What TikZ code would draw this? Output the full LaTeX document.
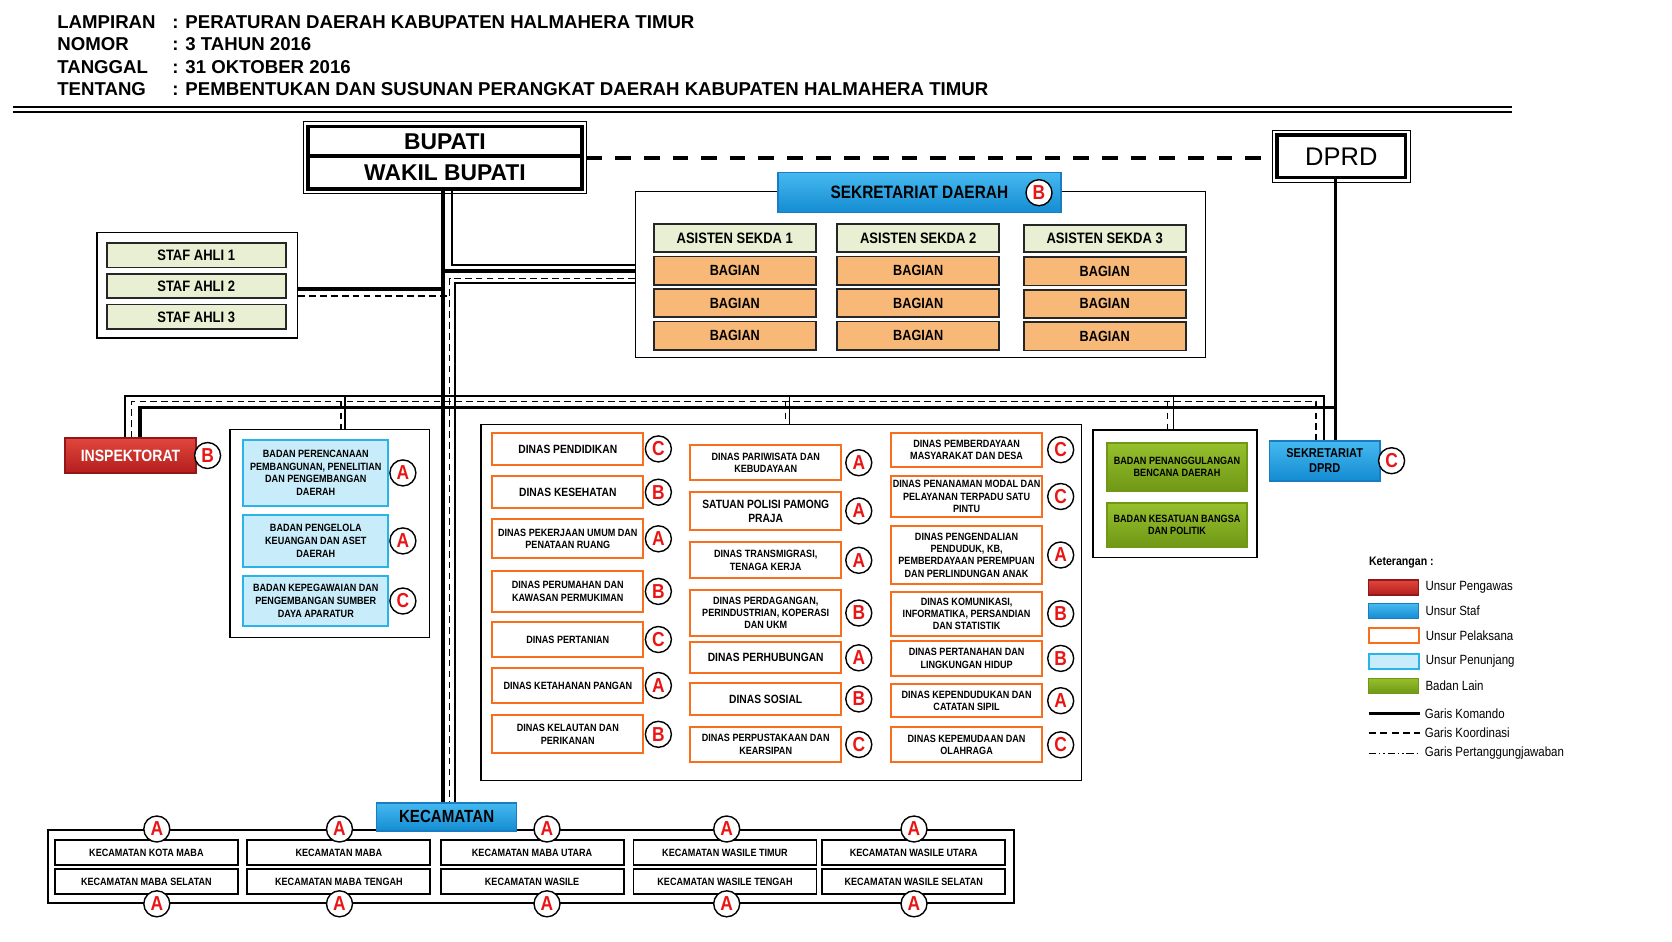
\documentclass[tikz,border=0pt]{standalone}
\usepackage{fontspec}
\setmainfont{Liberation Sans}
\newfontfamily\sempit{Liberation Sans}[FakeStretch=0.86]
\usepackage{tikz}
\usetikzlibrary{positioning}
\usepackage{xcolor}

\newlength{\pxl}
\setlength{\pxl}{0.02cm}

\definecolor{hijaumuda}{RGB}{233,239,210}
\definecolor{oranye}{RGB}{248,185,120}
\definecolor{garisoranye}{RGB}{247,110,28}
\definecolor{birua}{RGB}{70,185,240}
\definecolor{birub}{RGB}{20,140,210}
\definecolor{birugaris}{RGB}{25,125,195}
\definecolor{birumuda}{RGB}{200,236,250}
\definecolor{birumudagaris}{RGB}{40,180,235}
\definecolor{meraha}{RGB}{225,70,60}
\definecolor{merahb}{RGB}{180,30,30}
\definecolor{hijaua}{RGB}{150,192,45}
\definecolor{hijaub}{RGB}{112,152,22}
\definecolor{hurufmerah}{RGB}{235,20,20}

\begin{document}
\begin{tikzpicture}[x=0.02cm,y=-0.02cm,
  komando/.style={line width=2pt},
  tipis/.style={line width=0.6pt},
  koord/.style={line width=0.7pt,dash pattern=on 3.8pt off 2.4pt},
  koordbesar/.style={line width=1.9pt,dash pattern=on 8.9pt off 7.4pt},
  tanggung/.style={line width=0.8pt,dash pattern=on 4.3pt off 1.6pt on 0.8pt off 1.6pt on 0.8pt off 1.6pt},
  teks/.style={inner sep=0pt},
  judul/.style={teks,anchor=west,font=\bfseries\fontsize{10.6}{12}\selectfont},
  pimpinan/.style={draw,line width=1.8pt,inner sep=0pt},
  wadah/.style={draw,line width=0.8pt,fill=white,inner sep=0pt},
  kotak/.style={draw,inner sep=0pt,align=center,line width=1pt},
  staf/.style={kotak,fill=hijaumuda,draw=black!85,font=\sempit\bfseries\fontsize{8.6}{10}\selectfont},
  bagian/.style={kotak,fill=oranye,draw=black!85,minimum width=162\pxl,minimum height=28.3\pxl,font=\sempit\bfseries\fontsize{8.4}{10}\selectfont},
  dinas/.style={kotak,fill=white,draw=garisoranye,minimum width=151\pxl,font=\sempit\bfseries\fontsize{6}{7}\selectfont},
  dinasbesar/.style={dinas,font=\sempit\bfseries\fontsize{6.8}{8}\selectfont},
  penunjang/.style={kotak,fill=birumuda,draw=birumudagaris,minimum width=145\pxl,font=\sempit\bfseries\fontsize{6}{7.2}\selectfont},
  unsurstaf/.style={kotak,top color=birua,bottom color=birub,draw=birugaris},
  pengawas/.style={kotak,top color=meraha,bottom color=merahb,draw=merahb!80!black,text=white},
  badanlain/.style={kotak,top color=hijaua,bottom color=hijaub,draw=hijaub,font=\sempit\bfseries\fontsize{6}{7}\selectfont},
  kecamatan/.style={kotak,fill=white,draw=black,line width=1.1pt,minimum width=183\pxl,minimum height=25\pxl,font=\sempit\bfseries\fontsize{6}{7}\selectfont},
  kelas/.style={circle,draw,line width=0.8pt,fill=white,inner sep=0pt,minimum size=26\pxl,text=hurufmerah,font=\sempit\bfseries\fontsize{11.5}{12}\selectfont},
  ketfont/.style={teks,font=\sempit\fontsize{7.6}{9}\selectfont}
]
\fill[white] (0,0) rectangle (1672,941);
\useasboundingbox (0,0) rectangle (1672,941);

% kepala lampiran
\node[judul] (lampiran) at (57,21.7) {LAMPIRAN};
\node[judul] (nomor) at (57,44) {NOMOR};
\node[judul] (tanggal) at (57,66.7) {TANGGAL};
\node[judul] (tentang) at (57,89) {TENTANG};
\node[judul] (isi1) at (172,21.7) {: PERATURAN DAERAH KABUPATEN HALMAHERA TIMUR};
\node[judul] (isi2) at (172,44) {: 3 TAHUN 2016};
\node[judul] (isi3) at (172,66.7) {: 31 OKTOBER 2016};
\node[judul] (isi4) at (172,89) {: PEMBENTUKAN DAN SUSUNAN PERANGKAT DAERAH KABUPATEN HALMAHERA TIMUR};
\draw[line width=1pt] (12.5,107.3) -- (1512,107.3);
\draw[line width=1pt] (12.5,111.7) -- (1512,111.7);

% pimpinan dan dprd
\node[pimpinan,minimum width=274\pxl,minimum height=30\pxl,font=\bfseries\fontsize{13}{15}\selectfont] (bupati) at (445,141.5) {BUPATI};
\node[pimpinan,minimum width=274\pxl,minimum height=33.3\pxl,font=\bfseries\fontsize{13}{15}\selectfont] (wakil) at (445,172.3) {WAKIL BUPATI};
\draw[tipis] ([xshift=-3\pxl,yshift=3\pxl]bupati.north west) rectangle ([xshift=3\pxl,yshift=-3\pxl]wakil.south east);
\node[pimpinan,minimum width=128.5\pxl,minimum height=42.7\pxl,font=\fontsize{14.5}{16}\selectfont] (dprd) at (1341.3,156.3) {DPRD};
\draw[tipis] ([xshift=-3\pxl,yshift=3\pxl]dprd.north west) rectangle ([xshift=3\pxl,yshift=-3\pxl]dprd.south east);

% sekretariat daerah
\node[wadah,minimum width=570\pxl,minimum height=166\pxl] (sekdawadah) at (920.6,274.7) {};
\node[unsurstaf,minimum width=283\pxl,minimum height=40\pxl,font=\sempit\bfseries\fontsize{10.2}{12}\selectfont] (sekda) at (919.4,192.5) {SEKRETARIAT DAERAH};
\node[kelas] (k-sekda) at (1039,192.7) {B};
\node[staf,minimum width=162\pxl,minimum height=27.5\pxl] (as1) at (734.8,237.9) {ASISTEN SEKDA 1};
\node[staf,minimum width=162\pxl,minimum height=27.5\pxl] (as2) at (918.2,237.9) {ASISTEN SEKDA 2};
\node[staf,minimum width=162\pxl,minimum height=27.5\pxl] (as3) at (1104.7,238.5) {ASISTEN SEKDA 3};
\node[bagian,below=3.2\pxl of as1] (bg11) {BAGIAN};
\node[bagian,below=2.4\pxl of bg11] (bg12) {BAGIAN};
\node[bagian,below=2.4\pxl of bg12] (bg13) {BAGIAN};
\node[bagian,below=3.2\pxl of as2] (bg21) {BAGIAN};
\node[bagian,below=2.4\pxl of bg21] (bg22) {BAGIAN};
\node[bagian,below=2.4\pxl of bg22] (bg23) {BAGIAN};
\node[bagian,below=3.2\pxl of as3] (bg31) {BAGIAN};
\node[bagian,below=2.4\pxl of bg31] (bg32) {BAGIAN};
\node[bagian,below=2.4\pxl of bg32] (bg33) {BAGIAN};

% staf ahli
\node[wadah,minimum width=200.5\pxl,minimum height=105.5\pxl] (stafwadah) at (197.3,285.3) {};
\node[staf,minimum width=179\pxl,minimum height=24.5\pxl] (sa1) at (196.2,255.3) {STAF AHLI 1};
\node[staf,minimum width=179\pxl,minimum height=24.5\pxl,below=4.5\pxl of sa1] (sa2) {STAF AHLI 2};
\node[staf,minimum width=179\pxl,minimum height=24.5\pxl,below=4.5\pxl of sa2] (sa3) {STAF AHLI 3};

% inspektorat
\node[pengawas,minimum width=131\pxl,minimum height=34.4\pxl,font=\sempit\bfseries\fontsize{9.3}{11}\selectfont] (insp) at (130.5,455.5) {INSPEKTORAT};
\node[kelas,right=-3\pxl of insp] (k-insp) {B};

% badan penunjang
\node[wadah,minimum width=199.3\pxl,minimum height=208.4\pxl] (penwadah) at (329.7,533.5) {};
\node[penunjang,minimum height=65.7\pxl] (pn1) at (315.8,472.9) {BADAN PERENCANAAN\\PEMBANGUNAN, PENELITIAN\\DAN PENGEMBANGAN\\DAERAH};
\node[kelas,right=0pt of pn1] (k-pn1) {A};
\node[penunjang,minimum height=51.7\pxl] (pn2) at (315.8,540.9) {BADAN PENGELOLA\\KEUANGAN DAN ASET\\DAERAH};
\node[kelas,right=0pt of pn2] (k-pn2) {A};
\node[penunjang,minimum height=50\pxl] (pn3) at (315.8,601) {BADAN KEPEGAWAIAN DAN\\PENGEMBANGAN SUMBER\\DAYA APARATUR};
\node[kelas,right=0pt of pn3] (k-pn3) {C};

% dinas
\node[wadah,minimum width=600.2\pxl,minimum height=356.1\pxl] (dinwadah) at (781.1,602.5) {};
\node[dinasbesar,minimum height=32.3\pxl] (d11) at (567.8,448.9) {DINAS PENDIDIKAN};
\node[kelas,right=0.5\pxl of d11] (k11) {C};
\node[dinasbesar,minimum height=32.3\pxl] (d12) at (567.8,492.2) {DINAS KESEHATAN};
\node[kelas,right=0.5\pxl of d12] (k12) {B};
\node[dinas,minimum height=39\pxl] (d13) at (567.8,538.8) {DINAS PEKERJAAN UMUM DAN\\PENATAAN RUANG};
\node[kelas,right=0.5\pxl of d13] (k13) {A};
\node[dinas,minimum height=40.7\pxl] (d14) at (567.8,591.4) {DINAS PERUMAHAN DAN\\KAWASAN PERMUKIMAN};
\node[kelas,right=0.5\pxl of d14] (k14) {B};
\node[dinas,minimum height=34.4\pxl] (d15) at (567.8,639.5) {DINAS PERTANIAN};
\node[kelas,right=0.5\pxl of d15] (k15) {C};
\node[dinas,minimum height=34.4\pxl] (d16) at (567.8,685.5) {DINAS KETAHANAN PANGAN};
\node[kelas,right=0.5\pxl of d16] (k16) {A};
\node[dinas,minimum height=38\pxl] (d17) at (567.8,734.3) {DINAS KELAUTAN DAN\\PERIKANAN};
\node[kelas,right=0.5\pxl of d17] (k17) {B};
\node[dinas,minimum height=34.7\pxl] (d21) at (765.7,462.7) {DINAS PARIWISATA DAN\\KEBUDAYAAN};
\node[kelas,right=3\pxl of d21] (k21) {A};
\node[dinasbesar,minimum height=38.3\pxl] (d22) at (765.7,510.9) {SATUAN POLISI PAMONG\\PRAJA};
\node[kelas,right=3\pxl of d22] (k22) {A};
\node[dinas,minimum height=36\pxl] (d23) at (765.7,560.3) {DINAS TRANSMIGRASI,\\TENAGA KERJA};
\node[kelas,right=3\pxl of d23] (k23) {A};
\node[dinas,minimum height=45.4\pxl] (d24) at (765.7,613) {DINAS PERDAGANGAN,\\PERINDUSTRIAN, KOPERASI\\DAN UKM};
\node[kelas,right=3\pxl of d24] (k24) {B};
\node[dinasbesar,minimum height=31\pxl] (d25) at (765.7,657.8) {DINAS PERHUBUNGAN};
\node[kelas,right=3\pxl of d25] (k25) {A};
\node[dinasbesar,minimum height=32.3\pxl] (d26) at (765.7,698.9) {DINAS SOSIAL};
\node[kelas,right=3\pxl of d26] (k26) {B};
\node[dinas,minimum height=35.6\pxl] (d27) at (765.7,744.5) {DINAS PERPUSTAKAAN DAN\\KEARSIPAN};
\node[kelas,right=3\pxl of d27] (k27) {C};
\node[dinas,minimum height=34\pxl] (d31) at (966.6,449.7) {DINAS PEMBERDAYAAN\\MASYARAKAT DAN DESA};
\node[kelas,right=4\pxl of d31] (k31) {C};
\node[dinas,minimum height=41.6\pxl] (d32) at (966.6,496.5) {DINAS PENANAMAN MODAL DAN\\PELAYANAN TERPADU SATU\\PINTU};
\node[kelas,right=4\pxl of d32] (k32) {C};
\node[dinas,minimum height=58\pxl] (d33) at (966.6,555) {DINAS PENGENDALIAN\\PENDUDUK, KB,\\PEMBERDAYAAN PEREMPUAN\\DAN PERLINDUNGAN ANAK};
\node[kelas,right=4\pxl of d33] (k33) {A};
\node[dinas,minimum height=44\pxl] (d34) at (966.6,613.7) {DINAS KOMUNIKASI,\\INFORMATIKA, PERSANDIAN\\DAN STATISTIK};
\node[kelas,right=4\pxl of d34] (k34) {B};
\node[dinas,minimum height=34.7\pxl] (d35) at (966.6,658.4) {DINAS PERTANAHAN DAN\\LINGKUNGAN HIDUP};
\node[kelas,right=4\pxl of d35] (k35) {B};
\node[dinas,minimum height=33.3\pxl] (d36) at (966.6,700.7) {DINAS KEPENDUDUKAN DAN\\CATATAN SIPIL};
\node[kelas,right=4\pxl of d36] (k36) {A};
\node[dinas,minimum height=35\pxl] (d37) at (966.6,744.8) {DINAS KEPEMUDAAN DAN\\OLAHRAGA};
\node[kelas,right=4\pxl of d37] (k37) {C};

% badan lain
\node[wadah,minimum width=164\pxl,minimum height=127.7\pxl] (lainwadah) at (1175,493.9) {};
\node[badanlain,minimum width=140\pxl,minimum height=48\pxl] (bl1) at (1177,466.7) {BADAN PENANGGULANGAN\\BENCANA DAERAH};
\node[badanlain,minimum width=140\pxl,minimum height=43.7\pxl] (bl2) at (1177,524.9) {BADAN KESATUAN BANGSA\\DAN POLITIK};

% sekretariat dprd
\node[unsurstaf,minimum width=110.6\pxl,minimum height=40\pxl,font=\sempit\bfseries\fontsize{7.3}{8.2}\selectfont] (setdprd) at (1324.7,460.7) {SEKRETARIAT\\DPRD};
\node[kelas,right=-3\pxl of setdprd] (k-setdprd) {C};

% kecamatan
\node[wadah,line width=1.2pt,minimum width=966.4\pxl,minimum height=72.7\pxl] (kecwadah) at (530.8,866.4) {};
\node[unsurstaf,minimum width=140\pxl,minimum height=28.3\pxl,font=\sempit\bfseries\fontsize{10}{12}\selectfont] (kecam) at (446.6,816.9) {KECAMATAN};
\node[kecamatan] (kc11) at (146.4,852.5) {KECAMATAN KOTA MABA};
\node[kecamatan] (kc12) at (146.4,881.8) {KECAMATAN MABA SELATAN};
\node[kecamatan] (kc21) at (338.9,852.5) {KECAMATAN MABA};
\node[kecamatan] (kc22) at (338.9,881.8) {KECAMATAN MABA TENGAH};
\node[kecamatan] (kc31) at (532.1,852.5) {KECAMATAN MABA UTARA};
\node[kecamatan] (kc32) at (532.1,881.8) {KECAMATAN WASILE};
\node[kecamatan] (kc41) at (725,852.5) {KECAMATAN WASILE TIMUR};
\node[kecamatan] (kc42) at (725,881.8) {KECAMATAN WASILE TENGAH};
\node[kecamatan] (kc51) at (913.7,852.5) {KECAMATAN WASILE UTARA};
\node[kecamatan] (kc52) at (913.7,881.8) {KECAMATAN WASILE SELATAN};
\node[kelas] (ka1) at (156.8,0 |- kecwadah.north) {A};
\node[kelas] (ka2) at (339.5,0 |- kecwadah.north) {A};
\node[kelas] (ka3) at (547,0 |- kecwadah.north) {A};
\node[kelas] (ka4) at (726.7,0 |- kecwadah.north) {A};
\node[kelas] (ka5) at (914,0 |- kecwadah.north) {A};
\node[kelas] (kb1) at (156.8,0 |- kecwadah.south) {A};
\node[kelas] (kb2) at (339.5,0 |- kecwadah.south) {A};
\node[kelas] (kb3) at (547,0 |- kecwadah.south) {A};
\node[kelas] (kb4) at (726.7,0 |- kecwadah.south) {A};
\node[kelas] (kb5) at (914,0 |- kecwadah.south) {A};

% garis hubungan
\coordinate (pjkanan) at (1324,396);
\coordinate (kokanan) at (1316,401.7);
\coordinate (kmkanan) at (1335.7,407.3);
\draw[tipis] (452,0 |- wakil.south) |- (sekdawadah.west |- 0,265);
\draw[tipis] (sekdawadah.west |- 0,283) -| (455,0 |- kecam.north);
\draw[tipis] (125,0 |- insp.north) |- (pjkanan) -- (pjkanan |- setdprd.north);
\draw[tipis] (345,396) -- (345,0 |- penwadah.north);
\draw[tipis] (789.3,396) -- (789.3,0 |- dinwadah.north);
\draw[tipis] (1173.5,396) -- (1173.5,0 |- lainwadah.north);
\draw[koord] (sekdawadah.west |- 0,278.7) -| (449.5,0 |- kecam.north);
\draw[koord] (131.7,0 |- insp.north) |- (kokanan) -- (kokanan |- setdprd.north);
\draw[koord] (341,401.7) -- (341,0 |- penwadah.north);
\draw[koord] (785.7,401.7) -- (785.7,0 |- dinwadah.north);
\draw[koord] (1167.7,401.7) -- (1167.7,0 |- lainwadah.north);
\draw[koord] (stafwadah.east |- 0,296) -- (446.5,296);
\draw[koordbesar] ([xshift=3\pxl]bupati.south east) -- ([xshift=-3\pxl]dprd.west |- bupati.south east);
\draw[komando] (443,0 |- wakil.south) -- (443,0 |- kecam.north);
\draw[komando] (443,271) -- (sekdawadah.west |- 0,271);
\draw[komando] (stafwadah.east |- 0,289) -- (443,289);
\draw[komando] (140,0 |- insp.north) |- (kmkanan);
\draw[komando] (kmkanan |- dprd.south) -- (kmkanan |- setdprd.north);

% keterangan
\node[teks,anchor=west,font=\sempit\bfseries\fontsize{7}{8}\selectfont] (ket) at (1368.7,562.3) {Keterangan :};
\node[pengawas,line width=0.6pt,minimum width=50\pxl,minimum height=15\pxl] (lg1) at (1393.6,587.5) {};
\node[unsurstaf,line width=0.6pt,minimum width=50\pxl,minimum height=15\pxl] (lg2) at (1393.6,611.2) {};
\node[dinas,minimum width=50\pxl,minimum height=15\pxl] (lg3) at (1393.6,635.3) {};
\node[penunjang,minimum width=50\pxl,minimum height=15\pxl] (lg4) at (1393.6,661.2) {};
\node[badanlain,line width=0.6pt,minimum width=50\pxl,minimum height=15\pxl] (lg5) at (1393.6,685.8) {};
\node[ketfont,right=6\pxl of lg1] (lb1) {Unsur Pengawas};
\node[ketfont,right=6\pxl of lg2] (lb2) {Unsur Staf};
\node[ketfont,right=6\pxl of lg3] (lb3) {Unsur Pelaksana};
\node[ketfont,right=6\pxl of lg4] (lb4) {Unsur Penunjang};
\node[ketfont,right=6\pxl of lg5] (lb5) {Badan Lain};
\coordinate (lg6) at (1368.7,713.3);
\coordinate (lg7) at (1368.7,732.7);
\coordinate (lg8) at (1368.7,753.3);
\draw[komando] (lg6) -- +(51,0);
\draw[line width=0.9pt,dash pattern=on 4pt off 2.5pt] (lg7) -- +(51,0);
\draw[tanggung] (lg8) -- +(51,0);
\node[ketfont,anchor=west] (lb6) at (1424.5,713.3) {Garis Komando};
\node[ketfont,anchor=west] (lb7) at (1424.5,732.7) {Garis Koordinasi};
\node[ketfont,anchor=west] (lb8) at (1424.5,753.3) {Garis Pertanggungjawaban};
\end{tikzpicture}
\end{document}
